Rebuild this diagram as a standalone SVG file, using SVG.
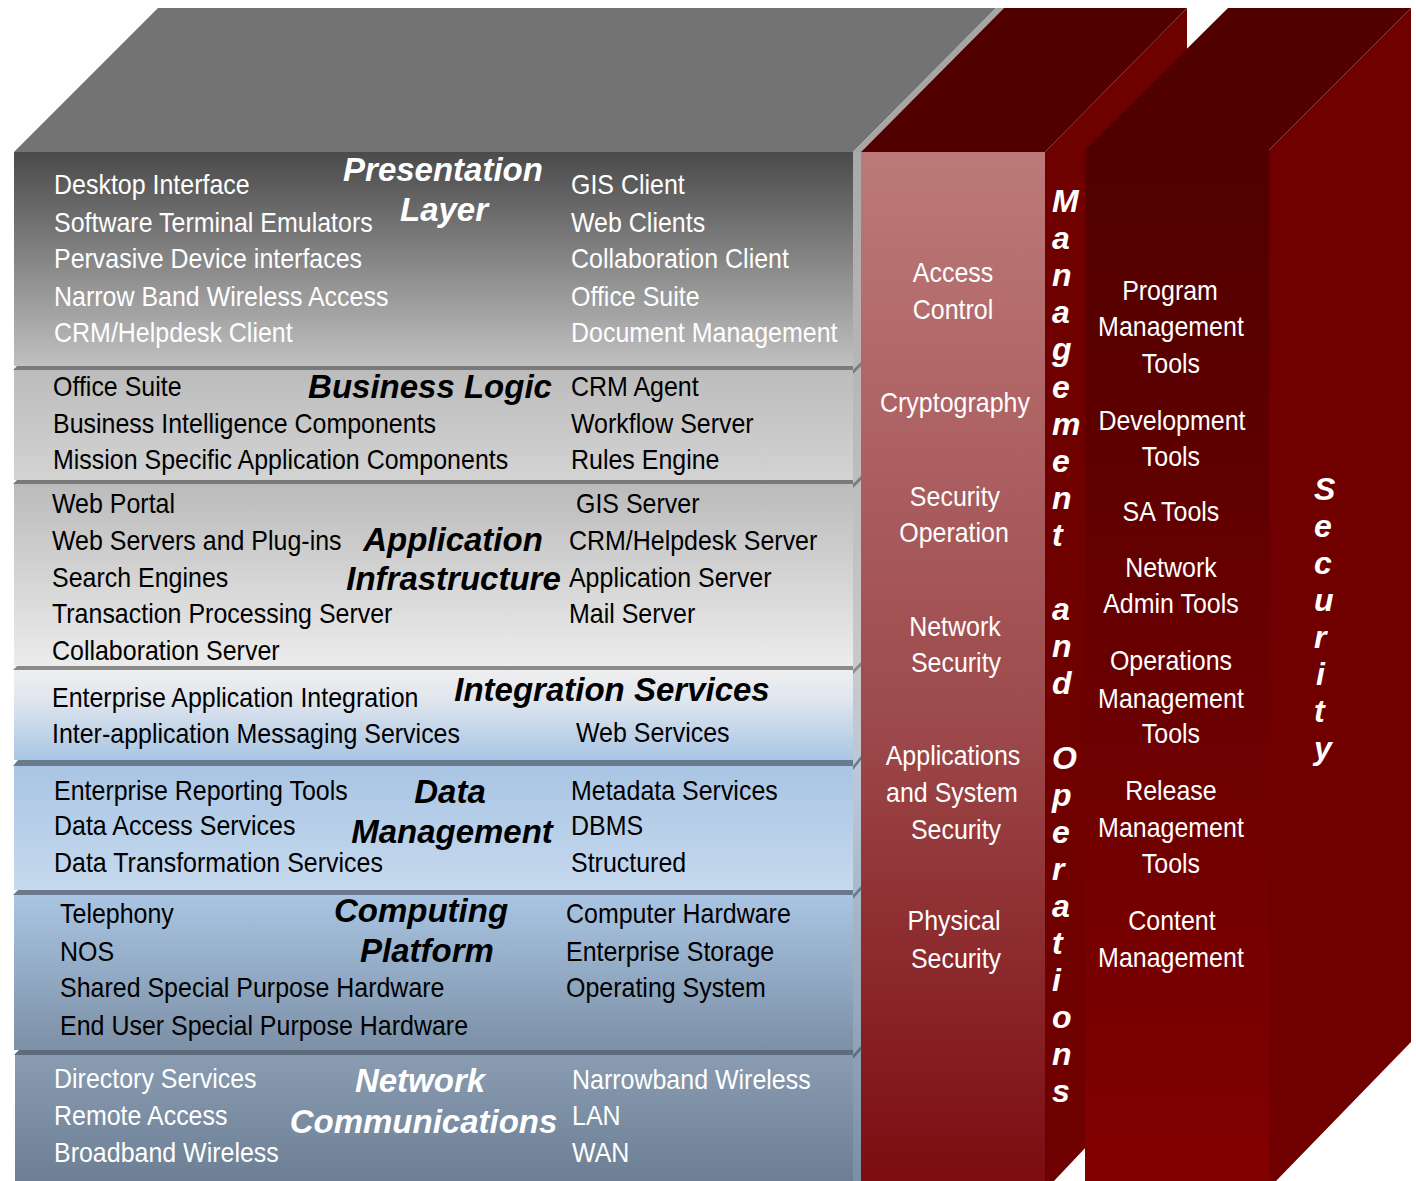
<svg xmlns="http://www.w3.org/2000/svg" width="1416" height="1181" viewBox="0 0 1416 1181">
<defs>
<linearGradient id="gPres" x1="0" y1="0" x2="0" y2="1"><stop offset="0" stop-color="#4a4a4a"/><stop offset="1" stop-color="#c0c0c0"/></linearGradient>
<linearGradient id="gBus" x1="0" y1="0" x2="0" y2="1"><stop offset="0" stop-color="#bcbcbc"/><stop offset="1" stop-color="#d3d3d3"/></linearGradient>
<linearGradient id="gApp" x1="0" y1="0" x2="0" y2="1"><stop offset="0" stop-color="#bbbbbb"/><stop offset="1" stop-color="#ececec"/></linearGradient>
<linearGradient id="gInt" x1="0" y1="0" x2="0" y2="1"><stop offset="0" stop-color="#eeeeee"/><stop offset="0.3" stop-color="#e2e7ee"/><stop offset="1" stop-color="#a8c5e4"/></linearGradient>
<linearGradient id="gData" x1="0" y1="0" x2="0" y2="1"><stop offset="0" stop-color="#a9c5e3"/><stop offset="1" stop-color="#c6d9ee"/></linearGradient>
<linearGradient id="gComp" x1="0" y1="0" x2="0" y2="1"><stop offset="0" stop-color="#a9c5e3"/><stop offset="1" stop-color="#7c90a6"/></linearGradient>
<linearGradient id="gNet" x1="0" y1="0" x2="0" y2="1"><stop offset="0" stop-color="#899cb1"/><stop offset="1" stop-color="#6c7f94"/></linearGradient>
<linearGradient id="gSide" x1="0" y1="0" x2="0" y2="1"><stop offset="0" stop-color="#a9a9a9"/><stop offset="0.5" stop-color="#c9c9c9"/><stop offset="0.62" stop-color="#b9c7d6"/><stop offset="1" stop-color="#7b8fa5"/></linearGradient>
<linearGradient id="gPink" x1="0" y1="0" x2="0" y2="1"><stop offset="0" stop-color="#bd7979"/><stop offset="0.55" stop-color="#9d4a4c"/><stop offset="1" stop-color="#7c0c10"/></linearGradient>
<linearGradient id="gTools" x1="0" y1="0" x2="0" y2="1"><stop offset="0" stop-color="#500000"/><stop offset="1" stop-color="#820000"/></linearGradient>
</defs>
<style>
.r{font-family:'Liberation Sans',Arial,sans-serif;font-size:27px}
.b{font-family:'Liberation Sans',Arial,sans-serif;font-size:33px;font-weight:bold;font-style:italic}
.v{font-family:'Liberation Sans',Arial,sans-serif;font-size:32px;font-weight:bold;font-style:italic;fill:#ffffff}
.w{fill:#ffffff}
.k{fill:#000000}
.m{text-anchor:middle}
.sepg{fill:#7a7a7a}
.sepb{fill:#6a7a8c}
</style>

<g id="cube-top">
<polygon points="14,152 158,8 996,8 853,152" fill="#737373"/>
<polygon points="853,152 996,8 1004,8 861,152" fill="#a6a6a6"/>
<rect x="853" y="152" width="8" height="1029" fill="url(#gSide)"/>
</g>

<g id="layer-presentation">
<rect x="14" y="152" width="839" height="214" fill="url(#gPres)"/>
<text class="b w m" x="443" y="181">Presentation</text>
<text class="b w m" x="444" y="221">Layer</text>
<g transform="scale(0.925 1)" class="r w">
<text x="58.4" y="194">Desktop Interface</text>
<text x="58.4" y="232">Software Terminal Emulators</text>
<text x="58.4" y="268">Pervasive Device interfaces</text>
<text x="58.4" y="306">Narrow Band Wireless Access</text>
<text x="58.4" y="342">CRM/Helpdesk Client</text>
<text x="617.3" y="194">GIS Client</text>
<text x="617.3" y="232">Web Clients</text>
<text x="617.3" y="268">Collaboration Client</text>
<text x="617.3" y="306">Office Suite</text>
<text x="617.3" y="342">Document Management</text>
</g>
</g>

<g id="layer-business-logic">
<polygon class="sepg" points="13,370 17,366 853,366 853,370"/>
<polygon class="sepg" points="853,370 861,362 861,366 853,374"/>
<rect x="14" y="370" width="839" height="110" fill="url(#gBus)"/>
<text class="b k m" x="430" y="398">Business Logic</text>
<g transform="scale(0.925 1)" class="r k">
<text x="57.3" y="396">Office Suite</text>
<text x="57.3" y="433">Business Intelligence Components</text>
<text x="57.3" y="469">Mission Specific Application Components</text>
<text x="617.3" y="396">CRM Agent</text>
<text x="617.3" y="433">Workflow Server</text>
<text x="617.3" y="469">Rules Engine</text>
</g>
</g>

<g id="layer-application-infrastructure">
<polygon class="sepg" points="13,484 17,480 853,480 853,484"/>
<polygon class="sepg" points="853,484 861,476 861,480 853,488"/>
<rect x="14" y="484" width="839" height="182" fill="url(#gApp)"/>
<text class="b k m" x="453" y="551">Application</text>
<text class="b k m" x="453.5" y="590">Infrastructure</text>
<g transform="scale(0.925 1)" class="r k">
<text x="56.2" y="513">Web Portal</text>
<text x="56.2" y="550">Web Servers and Plug-ins</text>
<text x="56.2" y="587">Search Engines</text>
<text x="56.2" y="623">Transaction Processing Server</text>
<text x="56.2" y="660">Collaboration Server</text>
<text x="622.7" y="513">GIS Server</text>
<text x="615.1" y="550">CRM/Helpdesk Server</text>
<text x="615.1" y="587">Application Server</text>
<text x="615.1" y="623">Mail Server</text>
</g>
</g>

<g id="layer-integration-services">
<polygon fill="#8a8a8a" points="13,670 17,666 853,666 853,670"/>
<polygon fill="#8a8a8a" points="853,670 861,662 861,666 853,674"/>
<rect x="14" y="670" width="839" height="90" fill="url(#gInt)"/>
<text class="b k m" x="612" y="701">Integration Services</text>
<g transform="scale(0.925 1)" class="r k">
<text x="56.2" y="707">Enterprise Application Integration</text>
<text x="56.2" y="743">Inter-application Messaging Services</text>
<text x="622.7" y="742">Web Services</text>
</g>
</g>

<g id="layer-data-management">
<polygon class="sepb" points="13,766 18,760 853,760 853,766"/>
<polygon class="sepb" points="853,766 861,756 861,760 853,770"/>
<rect x="14" y="766" width="839" height="124" fill="url(#gData)"/>
<text class="b k m" x="450" y="803">Data</text>
<text class="b k m" x="452" y="843">Management</text>
<g transform="scale(0.925 1)" class="r k">
<text x="58.4" y="800">Enterprise Reporting Tools</text>
<text x="58.4" y="835">Data Access Services</text>
<text x="58.4" y="872">Data Transformation Services</text>
<text x="617.3" y="800">Metadata Services</text>
<text x="617.3" y="835">DBMS</text>
<text x="617.3" y="872">Structured</text>
</g>
</g>

<g id="layer-computing-platform">
<polygon class="sepb" points="13,895 18,890 853,890 853,895"/>
<polygon class="sepb" points="853,895 861,886 861,890 853,899"/>
<rect x="14" y="895" width="839" height="155" fill="url(#gComp)"/>
<text class="b k m" x="421" y="922">Computing</text>
<text class="b k m" x="427" y="962">Platform</text>
<g transform="scale(0.925 1)" class="r k">
<text x="64.9" y="923">Telephony</text>
<text x="64.9" y="961">NOS</text>
<text x="64.9" y="997">Shared Special Purpose Hardware</text>
<text x="64.9" y="1035">End User Special Purpose Hardware</text>
<text x="611.9" y="923">Computer Hardware</text>
<text x="611.9" y="961">Enterprise Storage</text>
<text x="611.9" y="997">Operating System</text>
</g>
</g>

<g id="layer-network-communications">
<polygon fill="#5e6d7e" points="14,1055 19,1050 853,1050 853,1055"/>
<polygon fill="#5e6d7e" points="853,1055 861,1046 861,1050 853,1059"/>
<rect x="15" y="1055" width="838" height="126" fill="url(#gNet)"/>
<text class="b w m" x="420" y="1092">Network</text>
<text class="b w m" x="423.5" y="1133">Communications</text>
<g transform="scale(0.925 1)" class="r w">
<text x="58.4" y="1088">Directory Services</text>
<text x="58.4" y="1125">Remote Access</text>
<text x="58.4" y="1162">Broadband Wireless</text>
<text x="618.4" y="1089">Narrowband Wireless</text>
<text x="618.4" y="1125">LAN</text>
<text x="618.4" y="1162">WAN</text>
</g>
</g>

<g id="pillar-management-operations">
<polygon points="861,152 1004,8 1187,8 1045,152" fill="#510000"/>
<polygon points="1045,152 1187,8 1187,1040 1054,1181 1045,1181" fill="#6f0000"/>
<rect x="861" y="152" width="184" height="1029" fill="url(#gPink)"/>
<g transform="scale(0.925 1)" class="r w m">
<text x="1030.3" y="282">Access</text>
<text x="1030.3" y="319">Control</text>
<text x="1032.4" y="412">Cryptography</text>
<text x="1032.4" y="506">Security</text>
<text x="1031.4" y="542">Operation</text>
<text x="1032.4" y="636">Network</text>
<text x="1033.5" y="672">Security</text>
<text x="1030.3" y="765">Applications</text>
<text x="1029.2" y="802">and System</text>
<text x="1033.5" y="839">Security</text>
<text x="1031.4" y="930">Physical</text>
<text x="1033.5" y="968">Security</text>
</g>
<text class="v">
<tspan x="1052" y="212">M</tspan><tspan x="1052" y="249.1">a</tspan><tspan x="1052" y="286.2">n</tspan><tspan x="1052" y="323.3">a</tspan><tspan x="1052" y="360.4">g</tspan><tspan x="1052" y="397.5">e</tspan><tspan x="1052" y="434.6">m</tspan><tspan x="1052" y="471.7">e</tspan><tspan x="1052" y="508.8">n</tspan><tspan x="1052" y="545.9">t</tspan>
<tspan x="1052" y="620.1">a</tspan><tspan x="1052" y="657.2">n</tspan><tspan x="1052" y="694.3">d</tspan>
<tspan x="1052" y="768.5">O</tspan><tspan x="1052" y="805.6">p</tspan><tspan x="1052" y="842.7">e</tspan><tspan x="1052" y="879.8">r</tspan><tspan x="1052" y="916.9">a</tspan><tspan x="1052" y="954">t</tspan><tspan x="1052" y="991.1">i</tspan><tspan x="1052" y="1028.2">o</tspan><tspan x="1052" y="1065.3">n</tspan><tspan x="1052" y="1102.4">s</tspan>
</text>
</g>

<g id="pillar-security">
<polygon points="1085,150 1228,8 1411,8 1269,150" fill="#510000"/>
<polygon points="1269,150 1411,8 1411,1042 1276,1181 1269,1181" fill="#700000"/>
<rect x="1085" y="150" width="184" height="1031" fill="url(#gTools)"/>
<g transform="scale(0.925 1)" class="r w m">
<text x="1264.9" y="300">Program</text>
<text x="1265.9" y="336">Management</text>
<text x="1265.9" y="373">Tools</text>
<text x="1267" y="430">Development</text>
<text x="1265.9" y="466">Tools</text>
<text x="1265.9" y="521">SA Tools</text>
<text x="1265.9" y="577">Network</text>
<text x="1265.9" y="613">Admin Tools</text>
<text x="1265.9" y="670">Operations</text>
<text x="1265.9" y="708">Management</text>
<text x="1265.9" y="743">Tools</text>
<text x="1265.9" y="800">Release</text>
<text x="1265.9" y="837">Management</text>
<text x="1265.9" y="873">Tools</text>
<text x="1267" y="930">Content</text>
<text x="1265.9" y="967">Management</text>
</g>
<text class="v">
<tspan x="1314" y="500">S</tspan><tspan x="1314" y="537">e</tspan><tspan x="1314" y="574">c</tspan><tspan x="1314" y="611">u</tspan><tspan x="1314" y="648">r</tspan><tspan x="1316" y="685">i</tspan><tspan x="1314" y="722">t</tspan><tspan x="1314" y="759">y</tspan>
</text>
</g>

<g id="connectors"/>
</svg>
